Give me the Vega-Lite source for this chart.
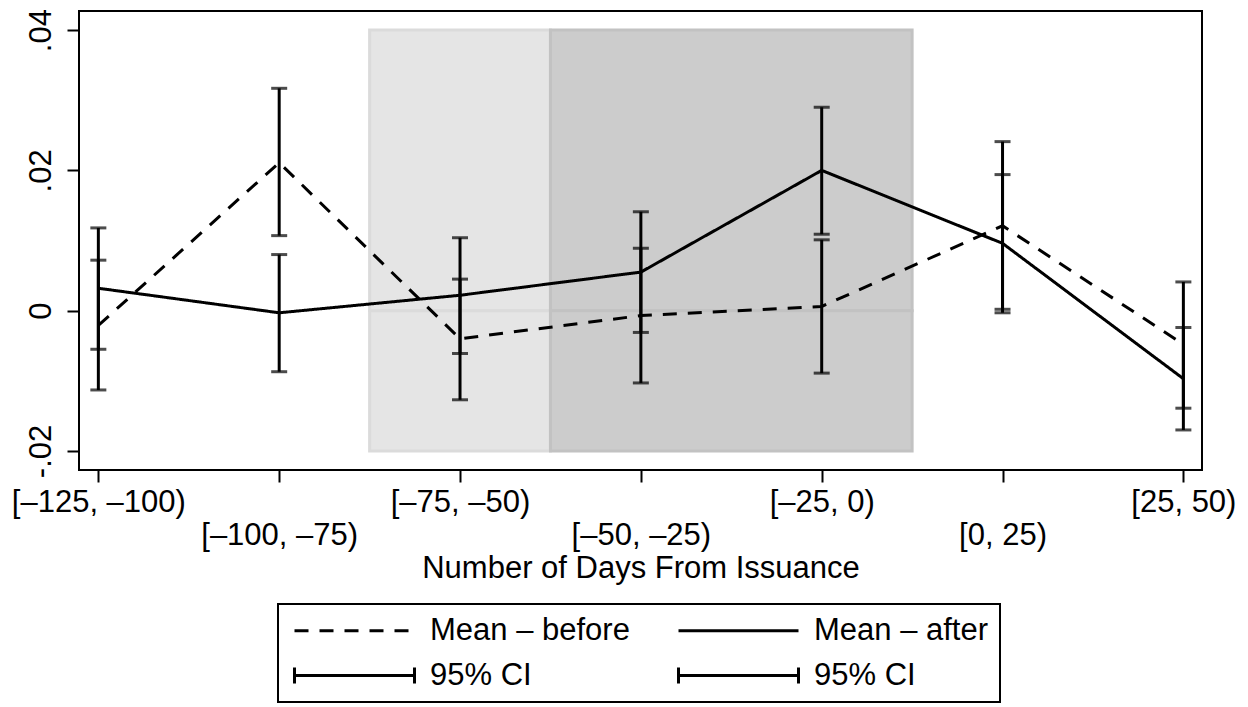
{
  "$schema": "https://vega.github.io/schema/vega-lite/v6.json",
  "width": 1123,
  "height": 459,
  "autosize": {"type": "none"},
  "padding": {"left": 79, "top": 11, "right": 46, "bottom": 237},
  "background": "white",
  "config": {
    "font": "Liberation Sans",
    "view": {"stroke": "black", "strokeWidth": 2},
    "axis": {
      "labelFont": "Liberation Sans",
      "titleFont": "Liberation Sans",
      "labelColor": "black",
      "titleColor": "black",
      "labelFontSize": 31,
      "titleFontSize": 31,
      "titleFontWeight": "normal",
      "tickColor": "black",
      "tickWidth": 2,
      "tickSize": 12,
      "domain": false,
      "grid": false
    }
  },
  "datasets": {
    "stats": [
      {"pos": 1, "series": "Mean – before", "mean": -0.0021, "lo": -0.0113, "hi": 0.0072},
      {"pos": 2, "series": "Mean – before", "mean": 0.0211, "lo": 0.0107, "hi": 0.0317},
      {"pos": 3, "series": "Mean – before", "mean": -0.0040, "lo": -0.0127, "hi": 0.0045},
      {"pos": 4, "series": "Mean – before", "mean": -0.0007, "lo": -0.0103, "hi": 0.0089},
      {"pos": 5, "series": "Mean – before", "mean": 0.0006, "lo": -0.0089, "hi": 0.0101},
      {"pos": 6, "series": "Mean – before", "mean": 0.0121, "lo": 0.0002, "hi": 0.0241},
      {"pos": 7, "series": "Mean – before", "mean": -0.0048, "lo": -0.0139, "hi": 0.0041},
      {"pos": 1, "series": "Mean – after", "mean": 0.0032, "lo": -0.0055, "hi": 0.0118},
      {"pos": 2, "series": "Mean – after", "mean": -0.0003, "lo": -0.0087, "hi": 0.0080},
      {"pos": 3, "series": "Mean – after", "mean": 0.0022, "lo": -0.0061, "hi": 0.0104},
      {"pos": 4, "series": "Mean – after", "mean": 0.0055, "lo": -0.0031, "hi": 0.0141},
      {"pos": 5, "series": "Mean – after", "mean": 0.0200, "lo": 0.0109, "hi": 0.0290},
      {"pos": 6, "series": "Mean – after", "mean": 0.0096, "lo": -0.0003, "hi": 0.0194},
      {"pos": 7, "series": "Mean – after", "mean": -0.0097, "lo": -0.0170, "hi": -0.0024}
    ],
    "bands": [
      {"x1": 2.5, "x2": 3.5, "y1": 0, "y2": 0.04, "shade": "light"},
      {"x1": 2.5, "x2": 3.5, "y1": 0, "y2": -0.02, "shade": "light"},
      {"x1": 3.5, "x2": 5.5, "y1": 0, "y2": 0.04, "shade": "dark"},
      {"x1": 3.5, "x2": 5.5, "y1": 0, "y2": -0.02, "shade": "dark"}
    ]
  },
  "layer": [
    {
      "data": {"name": "bands"},
      "mark": {"type": "rect", "strokeWidth": 3},
      "encoding": {
        "x": {"field": "x1", "type": "quantitative", "scale": {"domain": [0.893, 7.103], "nice": false, "zero": false},
          "axis": {
            "values": [1, 2, 3, 4, 5, 6, 7],
            "title": "Number of Days From Issuance",
            "titlePadding": 3,
            "labelBaseline": "top",
            "labelAlign": "center",
            "labelPadding": 5,
            "labelLineHeight": 33,
            "labelOverlap": false,
            "labelBound": false,
            "labelFlush": false,
            "labelExpr": "datum.value % 2 == 0 ? [' ', ['[–125, –100)','[–100, –75)','[–75, –50)','[–50, –25)','[–25, 0)','[0, 25)','[25, 50)'][datum.value - 1]] : ['[–125, –100)','[–100, –75)','[–75, –50)','[–50, –25)','[–25, 0)','[0, 25)','[25, 50)'][datum.value - 1]"
          }},
        "x2": {"field": "x2"},
        "y": {"field": "y1", "type": "quantitative", "scale": {"domain": [-0.02271, 0.04272], "nice": false, "zero": false},
          "axis": {
            "values": [-0.02, 0, 0.02, 0.04],
            "title": null,
            "labelAngle": -90,
            "labelPadding": 10,
            "labelExpr": "datum.value == 0 ? '0' : (datum.value > 0 ? '.0' + round(datum.value * 100) : '-.0' + round(-datum.value * 100))"
          }},
        "y2": {"field": "y2"},
        "fill": {"field": "shade", "type": "nominal", "scale": {"domain": ["light", "dark"], "range": ["#e5e5e5", "#cccccc"]}, "legend": null},
        "stroke": {"field": "shade", "type": "nominal", "scale": {"domain": ["light", "dark"], "range": ["#dbdbdb", "#c2c2c2"]}, "legend": null}
      }
    },
    {
      "data": {"name": "stats"},
      "mark": {"type": "line", "color": "black", "strokeWidth": 3},
      "encoding": {
        "x": {"field": "pos", "type": "quantitative"},
        "y": {"field": "mean", "type": "quantitative"},
        "strokeDash": {
          "field": "series", "type": "nominal",
          "scale": {"domain": ["Mean – before", "Mean – after", "CI1", "CI2"], "range": [[14, 11], [1, 0], [1, 0], [1, 0]]},
          "legend": {
            "title": null,
            "orient": "none",
            "legendX": 199,
            "legendY": 593,
            "direction": "horizontal",
            "columns": 2,
            "columnPadding": 42,
            "rowPadding": 13,
            "padding": 11,
            "strokeColor": "black",
            "fillColor": "white",
            "symbolType": "M-1,0H11",
            "symbolSize": 400,
            "symbolStrokeWidth": 3,
            "symbolStrokeColor": "black",
            "labelFont": "Liberation Sans",
            "labelFontSize": 31,
            "labelColor": "black",
            "labelOffset": 110,
            "labelLimit": 0,
            "labelExpr": "datum.value == 'CI1' || datum.value == 'CI2' ? '95% CI' : datum.label",
            "encode": {
              "legend": {
                "update": {"strokeWidth": {"value": 2}}
              },
              "symbols": {
                "update": {
                  "shape": {"signal": "datum.value == 'CI1' || datum.value == 'CI2' ? 'M-1,0H11M-1,-0.8V0.8M11,-0.8V0.8' : 'M-1,0H11'"}
                }
              }
            }
          }
        }
      }
    },
    {
      "data": {"name": "stats"},
      "mark": {"type": "rule", "color": "black", "strokeWidth": 3},
      "encoding": {
        "x": {"field": "pos", "type": "quantitative"},
        "y": {"field": "lo", "type": "quantitative"},
        "y2": {"field": "hi"}
      }
    },
    {
      "data": {"name": "stats"},
      "mark": {"type": "tick", "color": "black", "orient": "horizontal", "size": 16, "thickness": 3},
      "encoding": {
        "x": {"field": "pos", "type": "quantitative"},
        "y": {"field": "lo", "type": "quantitative"}
      }
    },
    {
      "data": {"name": "stats"},
      "mark": {"type": "tick", "color": "black", "orient": "horizontal", "size": 16, "thickness": 3},
      "encoding": {
        "x": {"field": "pos", "type": "quantitative"},
        "y": {"field": "hi", "type": "quantitative"}
      }
    }
  ]
}
